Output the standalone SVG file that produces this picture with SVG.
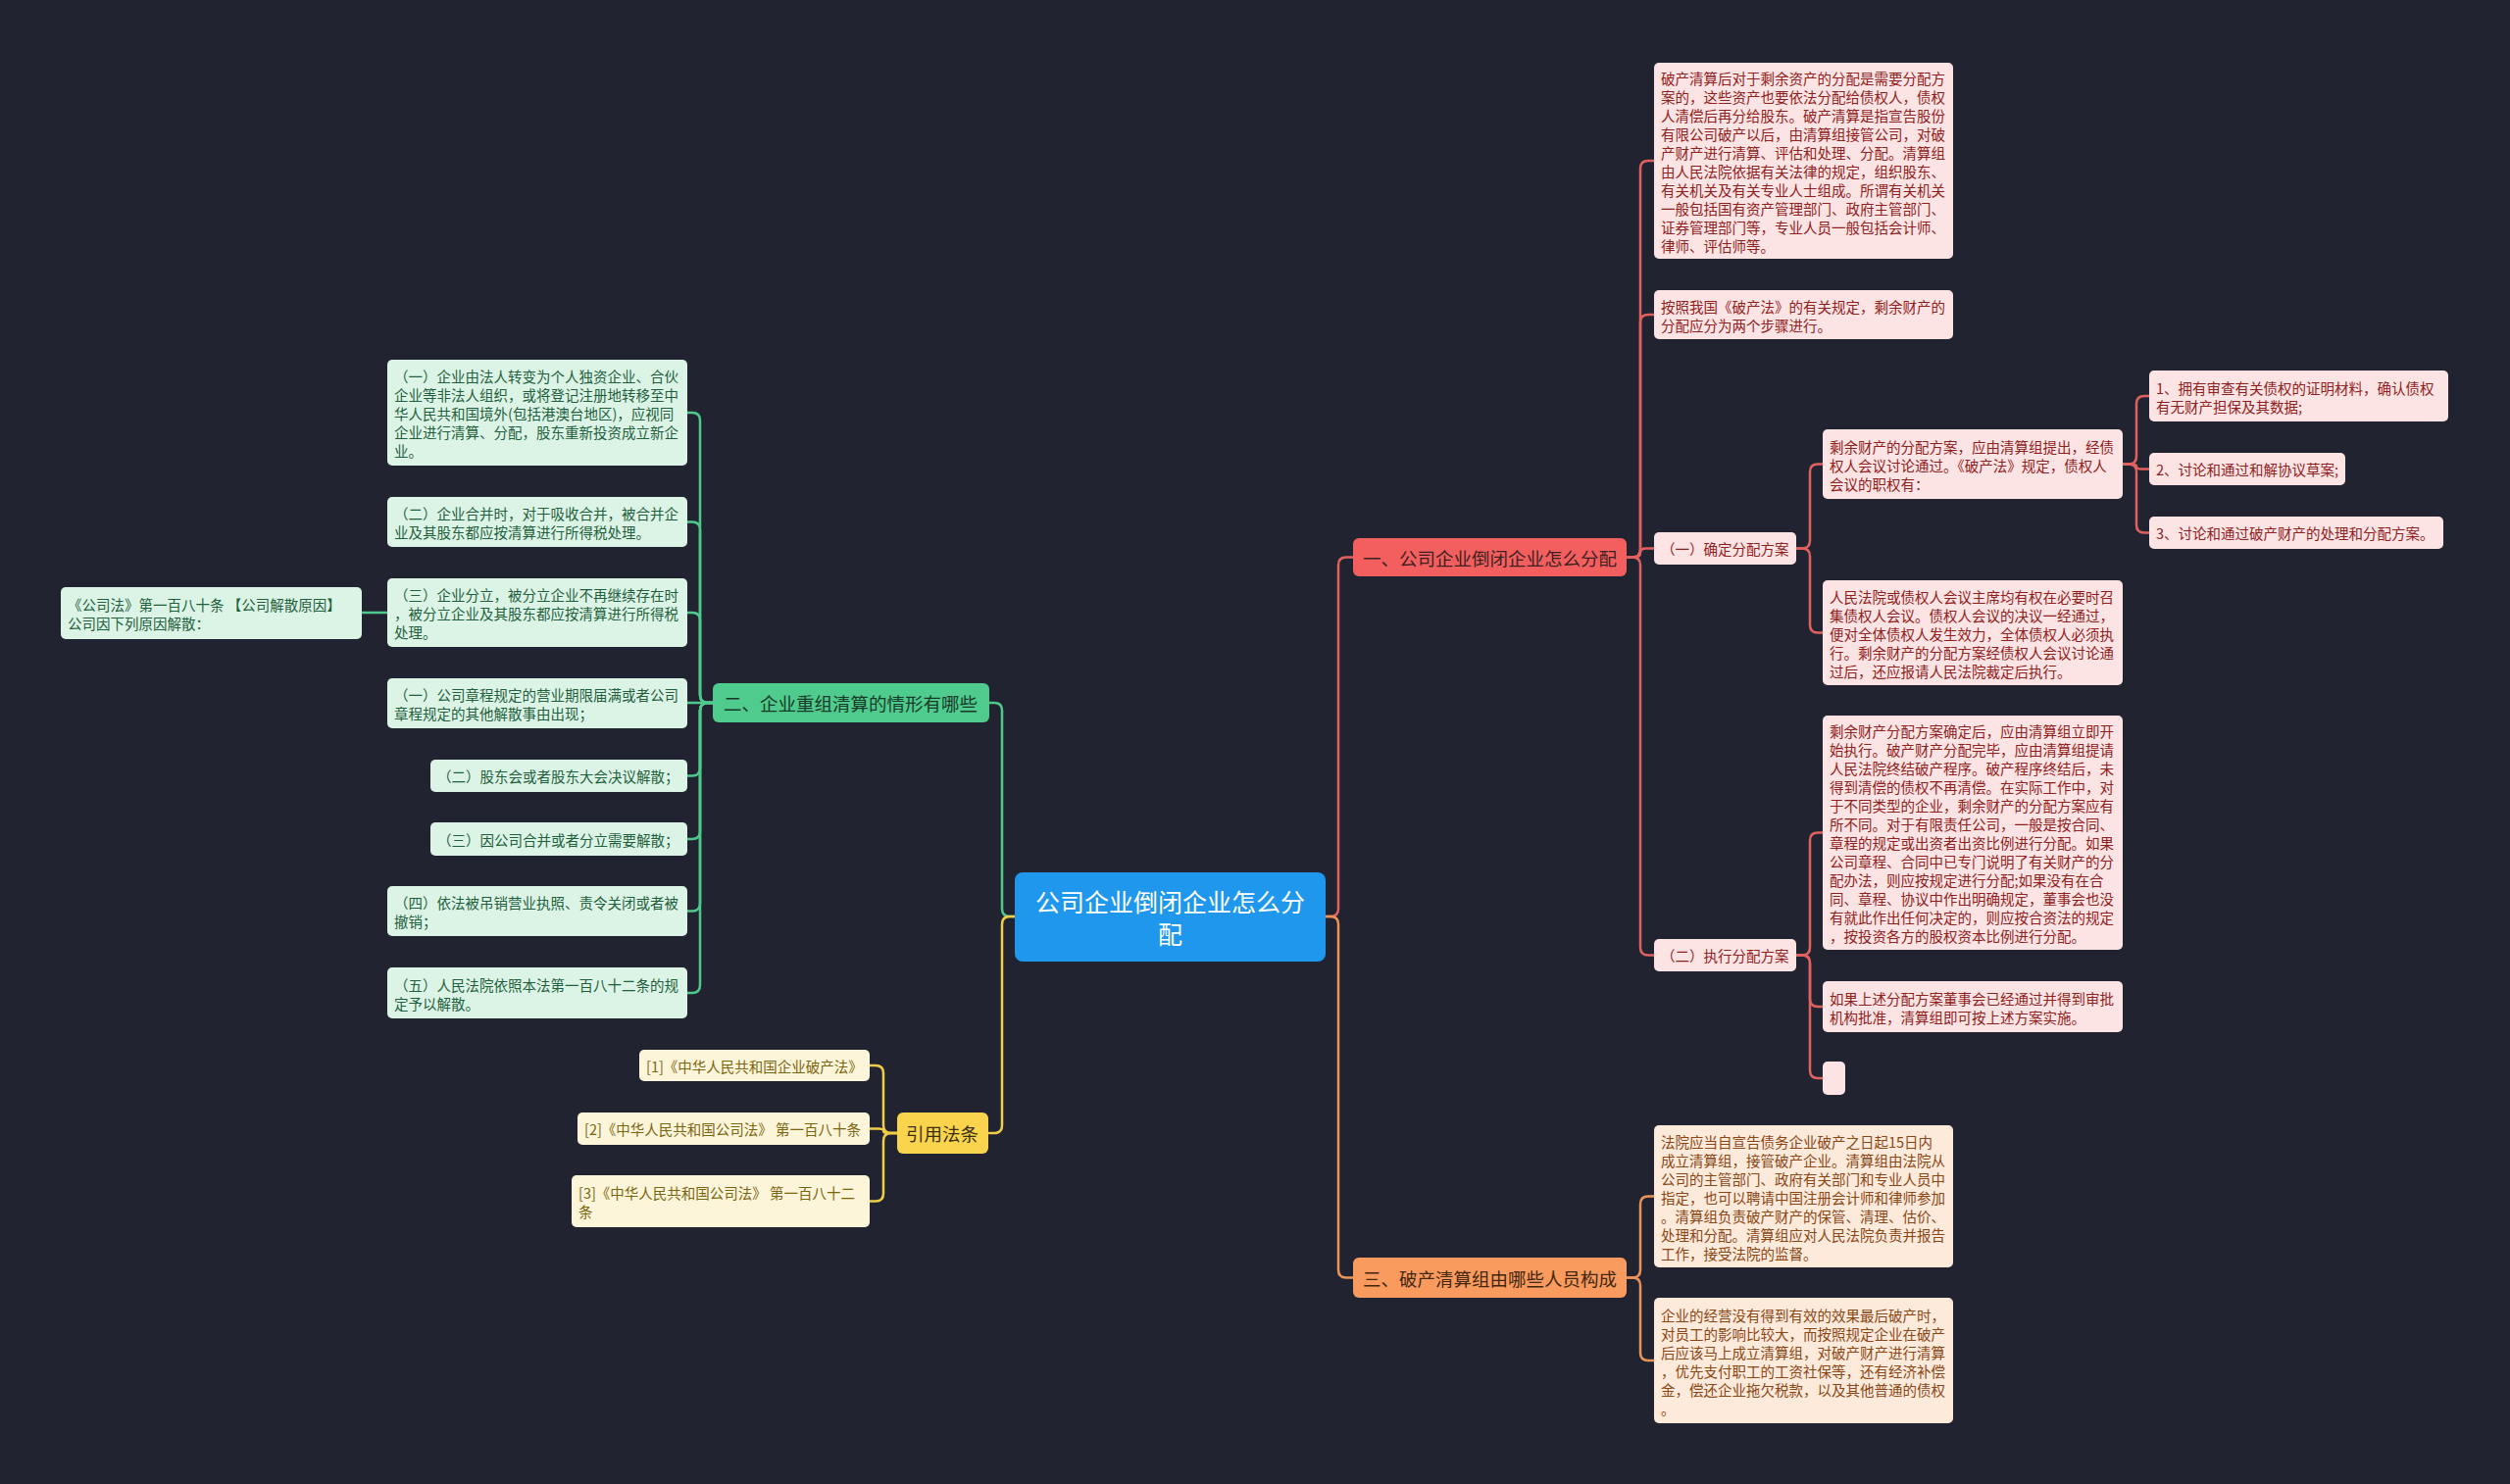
<svg xmlns="http://www.w3.org/2000/svg" width="2560" height="1514" viewBox="0 0 2560 1514">
<style>
text{font-family:"Noto Sans CJK SC","Noto Sans",sans-serif;dominant-baseline:central}
.c{font-size:14.5px}
.b{font-size:18.5px}
.root{font-size:25px;fill:#ffffff}
.rc rect{fill:#fde4e4}.rc text{fill:#8f2020}
.oc rect{fill:#fdeadb}.oc text{fill:#8a4614}
.gc rect{fill:#dcf4e6}.gc text{fill:#1f5f3d}
.yc rect{fill:#fdf5d9}.yc text{fill:#7a6510}
.lk{fill:none;stroke-width:2.5;stroke-linecap:round}
.lr{stroke:#e0615f}.lo{stroke:#ec9458}.lg{stroke:#4ec98b}.ly{stroke:#efcd4a}
</style>
<rect x="0" y="0" width="2560" height="1514" fill="#212430"/>

<g id="connectors">
<path class="lk lr" d="M1352 935 H1357 Q1365 935 1365 927 V576.5 Q1365 568.5 1373 568.5 H1380"/>
<path class="lk lr" d="M1659 568.5 H1665 Q1673 568.5 1673 560.5 V172 Q1673 164 1681 164 H1687"/>
<path class="lk lr" d="M1659 568.5 H1665 Q1673 568.5 1673 560.5 V329 Q1673 321 1681 321 H1687"/>
<path class="lk lr" d="M1659 568.5 H1667 Q1673 568.5 1673 564 Q1673 559.5 1679 559.5 H1687"/>
<path class="lk lr" d="M1659 568.5 H1665 Q1673 568.5 1673 576.5 V966.5 Q1673 974.5 1681 974.5 H1687"/>
<path class="lk lr" d="M1832 559.5 H1838 Q1846 559.5 1846 551.5 V481.5 Q1846 473.5 1854 473.5 H1859"/>
<path class="lk lr" d="M1832 559.5 H1838 Q1846 559.5 1846 567.5 V637.5 Q1846 645.5 1854 645.5 H1859"/>
<path class="lk lr" d="M2165 473.5 H2171 Q2179 473.5 2179 465.5 V412 Q2179 404 2187 404 H2192"/>
<path class="lk lr" d="M2165 473.5 H2174 Q2179 473.5 2179 476 Q2179 478.5 2184 478.5 H2192"/>
<path class="lk lr" d="M2165 473.5 H2171 Q2179 473.5 2179 481.5 V535.5 Q2179 543.5 2187 543.5 H2192"/>
<path class="lk lr" d="M1832 974.5 H1838 Q1846 974.5 1846 966.5 V857.5 Q1846 849.5 1854 849.5 H1859"/>
<path class="lk lr" d="M1832 974.5 H1838 Q1846 974.5 1846 982.5 V1019 Q1846 1027 1854 1027 H1859"/>
<path class="lk lr" d="M1832 974.5 H1838 Q1846 974.5 1846 982.5 V1092 Q1846 1100 1854 1100 H1859"/>
<path class="lk lo" d="M1352 935 H1357 Q1365 935 1365 943 V1295.5 Q1365 1303.5 1373 1303.5 H1380"/>
<path class="lk lo" d="M1659 1303.5 H1665 Q1673 1303.5 1673 1295.5 V1228.5 Q1673 1220.5 1681 1220.5 H1687"/>
<path class="lk lo" d="M1659 1303.5 H1665 Q1673 1303.5 1673 1311.5 V1380 Q1673 1388 1681 1388 H1687"/>
<path class="lk lg" d="M1035 935 H1030 Q1022 935 1022 927 V725 Q1022 717 1014 717 H1009"/>
<path class="lk lg" d="M727 717 H722 Q714 717 714 709 V429 Q714 421 706 421 H701"/>
<path class="lk lg" d="M727 717 H722 Q714 717 714 709 V540.5 Q714 532.5 706 532.5 H701"/>
<path class="lk lg" d="M727 717 H722 Q714 717 714 709 V633 Q714 625 706 625 H701"/>
<path class="lk lg" d="M727 717 H701"/>
<path class="lk lg" d="M727 717 H722 Q714 717 714 725 V783.5 Q714 791.5 706 791.5 H701"/>
<path class="lk lg" d="M727 717 H722 Q714 717 714 725 V848 Q714 856 706 856 H701"/>
<path class="lk lg" d="M727 717 H722 Q714 717 714 725 V921.5 Q714 929.5 706 929.5 H701"/>
<path class="lk lg" d="M727 717 H722 Q714 717 714 725 V1005 Q714 1013 706 1013 H701"/>
<path class="lk lg" d="M395 625 H369"/>
<path class="lk ly" d="M1035 935 H1030 Q1022 935 1022 943 V1148 Q1022 1156 1014 1156 H1009"/>
<path class="lk ly" d="M915 1156 H909 Q901 1156 901 1148 V1095 Q901 1087 893 1087 H887"/>
<path class="lk ly" d="M915 1156 H906 Q901 1156 901 1153.75 Q901 1151.5 896 1151.5 H887"/>
<path class="lk ly" d="M915 1156 H909 Q901 1156 901 1164 V1217.5 Q901 1225.5 893 1225.5 H887"/>
</g>

<g id="root">
<rect x="1035" y="890" width="317" height="91" rx="8" fill="#1e97ec"/>
<text class="root" text-anchor="middle"><tspan x="1193.5" y="919">公司企业倒闭企业怎么分</tspan><tspan x="1193.5" y="952">配</tspan></text>
</g>

<g id="b1">
<rect x="1380" y="549" width="279" height="39" rx="6" fill="#f35f5f"/>
<text class="b" x="1390" y="568.5" fill="#3d1f1f">一、公司企业倒闭企业怎么分配</text>
</g>
<g id="b3">
<rect x="1380" y="1283" width="279" height="41" rx="6" fill="#f99b5e"/>
<text class="b" x="1390" y="1303.5" fill="#43260f">三、破产清算组由哪些人员构成</text>
</g>
<g id="b2">
<rect x="727" y="697" width="282" height="40" rx="6" fill="#4fcb8d"/>
<text class="b" x="738" y="717" fill="#173a28">二、企业重组清算的情形有哪些</text>
</g>
<g id="by">
<rect x="915" y="1135" width="93" height="42" rx="6" fill="#f9d44c"/>
<text class="b" x="924" y="1156" fill="#3a2f10">引用法条</text>
</g>

<g id="r1" class="rc">
<rect x="1687" y="64" width="305" height="200" rx="5"/>
<text class="c"><tspan x="1694" y="78.5">破产清算后对于剩余资产的分配是需要分配方</tspan><tspan x="1694" y="97.5">案的，这些资产也要依法分配给债权人，债权</tspan><tspan x="1694" y="116.5">人清偿后再分给股东。破产清算是指宣告股份</tspan><tspan x="1694" y="135.5">有限公司破产以后，由清算组接管公司，对破</tspan><tspan x="1694" y="154.5">产财产进行清算、评估和处理、分配。清算组</tspan><tspan x="1694" y="173.5">由人民法院依据有关法律的规定，组织股东、</tspan><tspan x="1694" y="192.5">有关机关及有关专业人士组成。所谓有关机关</tspan><tspan x="1694" y="211.5">一般包括国有资产管理部门、政府主管部门、</tspan><tspan x="1694" y="230.5">证券管理部门等，专业人员一般包括会计师、</tspan><tspan x="1694" y="249.5">律师、评估师等。</tspan></text>
</g>
<g id="r2" class="rc">
<rect x="1687" y="296" width="305" height="50" rx="5"/>
<text class="c"><tspan x="1694" y="311.5">按照我国《破产法》的有关规定，剩余财产的</tspan><tspan x="1694" y="330.5">分配应分为两个步骤进行。</tspan></text>
</g>
<g id="r3" class="rc">
<rect x="1687" y="543" width="145" height="33" rx="5"/>
<text class="c" x="1694" y="559.5">（一）确定分配方案</text>
</g>
<g id="r4" class="rc">
<rect x="1687" y="958" width="145" height="33" rx="5"/>
<text class="c" x="1694" y="974.5">（二）执行分配方案</text>
</g>
<g id="r5" class="rc">
<rect x="1859" y="438" width="306" height="71" rx="5"/>
<text class="c"><tspan x="1866" y="454.5">剩余财产的分配方案，应由清算组提出，经债</tspan><tspan x="1866" y="473.5">权人会议讨论通过。《破产法》规定，债权人</tspan><tspan x="1866" y="492.5">会议的职权有：</tspan></text>
</g>
<g id="r6" class="rc">
<rect x="1859" y="592" width="306" height="107" rx="5"/>
<text class="c"><tspan x="1866" y="607.5">人民法院或债权人会议主席均有权在必要时召</tspan><tspan x="1866" y="626.5">集债权人会议。债权人会议的决议一经通过，</tspan><tspan x="1866" y="645.5">便对全体债权人发生效力，全体债权人必须执</tspan><tspan x="1866" y="664.5">行。剩余财产的分配方案经债权人会议讨论通</tspan><tspan x="1866" y="683.5">过后，还应报请人民法院裁定后执行。</tspan></text>
</g>
<g id="r7" class="rc">
<rect x="2192" y="378" width="305" height="52" rx="5"/>
<text class="c"><tspan x="2199" y="394.5">1、拥有审查有关债权的证明材料，确认债权</tspan><tspan x="2199" y="413.5">有无财产担保及其数据;</tspan></text>
</g>
<g id="r8" class="rc">
<rect x="2192" y="462" width="200" height="33" rx="5"/>
<text class="c" x="2199" y="478.5">2、讨论和通过和解协议草案;</text>
</g>
<g id="r9" class="rc">
<rect x="2192" y="527" width="300" height="33" rx="5"/>
<text class="c" x="2199" y="543.5">3、讨论和通过破产财产的处理和分配方案。</text>
</g>
<g id="r10" class="rc">
<rect x="1859" y="730" width="306" height="239" rx="5"/>
<text class="c"><tspan x="1866" y="745">剩余财产分配方案确定后，应由清算组立即开</tspan><tspan x="1866" y="764">始执行。破产财产分配完毕，应由清算组提请</tspan><tspan x="1866" y="783">人民法院终结破产程序。破产程序终结后，未</tspan><tspan x="1866" y="802">得到清偿的债权不再清偿。在实际工作中，对</tspan><tspan x="1866" y="821">于不同类型的企业，剩余财产的分配方案应有</tspan><tspan x="1866" y="840">所不同。对于有限责任公司，一般是按合同、</tspan><tspan x="1866" y="859">章程的规定或出资者出资比例进行分配。如果</tspan><tspan x="1866" y="878">公司章程、合同中已专门说明了有关财产的分</tspan><tspan x="1866" y="897">配办法，则应按规定进行分配;如果没有在合</tspan><tspan x="1866" y="916">同、章程、协议中作出明确规定，董事会也没</tspan><tspan x="1866" y="935">有就此作出任何决定的，则应按合资法的规定</tspan><tspan x="1866" y="954">，按投资各方的股权资本比例进行分配。</tspan></text>
</g>
<g id="r11" class="rc">
<rect x="1859" y="1001" width="306" height="52" rx="5"/>
<text class="c"><tspan x="1866" y="1017.5">如果上述分配方案董事会已经通过并得到审批</tspan><tspan x="1866" y="1036.5">机构批准，清算组即可按上述方案实施。</tspan></text>
</g>
<g id="r12" class="rc">
<rect x="1859" y="1083" width="23" height="34" rx="5"/>
</g>

<g id="o1" class="oc">
<rect x="1687" y="1148" width="305" height="145" rx="5"/>
<text class="c"><tspan x="1694" y="1163.5">法院应当自宣告债务企业破产之日起15日内</tspan><tspan x="1694" y="1182.5">成立清算组，接管破产企业。清算组由法院从</tspan><tspan x="1694" y="1201.5">公司的主管部门、政府有关部门和专业人员中</tspan><tspan x="1694" y="1220.5">指定，也可以聘请中国注册会计师和律师参加</tspan><tspan x="1694" y="1239.5">。清算组负责破产财产的保管、清理、估价、</tspan><tspan x="1694" y="1258.5">处理和分配。清算组应对人民法院负责并报告</tspan><tspan x="1694" y="1277.5">工作，接受法院的监督。</tspan></text>
</g>
<g id="o2" class="oc">
<rect x="1687" y="1324" width="305" height="128" rx="5"/>
<text class="c"><tspan x="1694" y="1340.5">企业的经营没有得到有效的效果最后破产时，</tspan><tspan x="1694" y="1359.5">对员工的影响比较大，而按照规定企业在破产</tspan><tspan x="1694" y="1378.5">后应该马上成立清算组，对破产财产进行清算</tspan><tspan x="1694" y="1397.5">，优先支付职工的工资社保等，还有经济补偿</tspan><tspan x="1694" y="1416.5">金，偿还企业拖欠税款，以及其他普通的债权</tspan><tspan x="1694" y="1435.5">。</tspan></text>
</g>

<g id="g1" class="gc">
<rect x="395" y="367" width="306" height="108" rx="5"/>
<text class="c"><tspan x="402" y="383">（一）企业由法人转变为个人独资企业、合伙</tspan><tspan x="402" y="402">企业等非法人组织，或将登记注册地转移至中</tspan><tspan x="402" y="421">华人民共和国境外(包括港澳台地区)，应视同</tspan><tspan x="402" y="440">企业进行清算、分配，股东重新投资成立新企</tspan><tspan x="402" y="459">业。</tspan></text>
</g>
<g id="g2" class="gc">
<rect x="395" y="507" width="306" height="51" rx="5"/>
<text class="c"><tspan x="402" y="523">（二）企业合并时，对于吸收合并，被合并企</tspan><tspan x="402" y="542">业及其股东都应按清算进行所得税处理。</tspan></text>
</g>
<g id="g3" class="gc">
<rect x="395" y="590" width="306" height="70" rx="5"/>
<text class="c"><tspan x="402" y="606">（三）企业分立，被分立企业不再继续存在时</tspan><tspan x="402" y="625">，被分立企业及其股东都应按清算进行所得税</tspan><tspan x="402" y="644">处理。</tspan></text>
</g>
<g id="g4" class="gc">
<rect x="395" y="692" width="306" height="51" rx="5"/>
<text class="c"><tspan x="402" y="708">（一）公司章程规定的营业期限届满或者公司</tspan><tspan x="402" y="727">章程规定的其他解散事由出现；</tspan></text>
</g>
<g id="g5" class="gc">
<rect x="439" y="775" width="262" height="33" rx="5"/>
<text class="c" x="446" y="791.5">（二）股东会或者股东大会决议解散；</text>
</g>
<g id="g6" class="gc">
<rect x="439" y="839" width="262" height="34" rx="5"/>
<text class="c" x="446" y="856">（三）因公司合并或者分立需要解散；</text>
</g>
<g id="g7" class="gc">
<rect x="395" y="904" width="306" height="51" rx="5"/>
<text class="c"><tspan x="402" y="920">（四）依法被吊销营业执照、责令关闭或者被</tspan><tspan x="402" y="939">撤销；</tspan></text>
</g>
<g id="g8" class="gc">
<rect x="395" y="987" width="306" height="52" rx="5"/>
<text class="c"><tspan x="402" y="1003.5">（五）人民法院依照本法第一百八十二条的规</tspan><tspan x="402" y="1022.5">定予以解散。</tspan></text>
</g>
<g id="gl" class="gc">
<rect x="62" y="599" width="307" height="53" rx="5"/>
<text class="c"><tspan x="69" y="616">《公司法》第一百八十条 【公司解散原因】</tspan><tspan x="69" y="635">公司因下列原因解散：</tspan></text>
</g>

<g id="c1" class="yc">
<rect x="652" y="1071" width="235" height="32" rx="5"/>
<text class="c" x="659" y="1087">[1]《中华人民共和国企业破产法》</text>
</g>
<g id="c2" class="yc">
<rect x="589" y="1135" width="298" height="33" rx="5"/>
<text class="c" x="596" y="1151.5">[2]《中华人民共和国公司法》 第一百八十条</text>
</g>
<g id="c3" class="yc">
<rect x="583" y="1199" width="304" height="53" rx="5"/>
<text class="c"><tspan x="590" y="1216">[3]《中华人民共和国公司法》 第一百八十二</tspan><tspan x="590" y="1235">条</tspan></text>
</g>
</svg>
